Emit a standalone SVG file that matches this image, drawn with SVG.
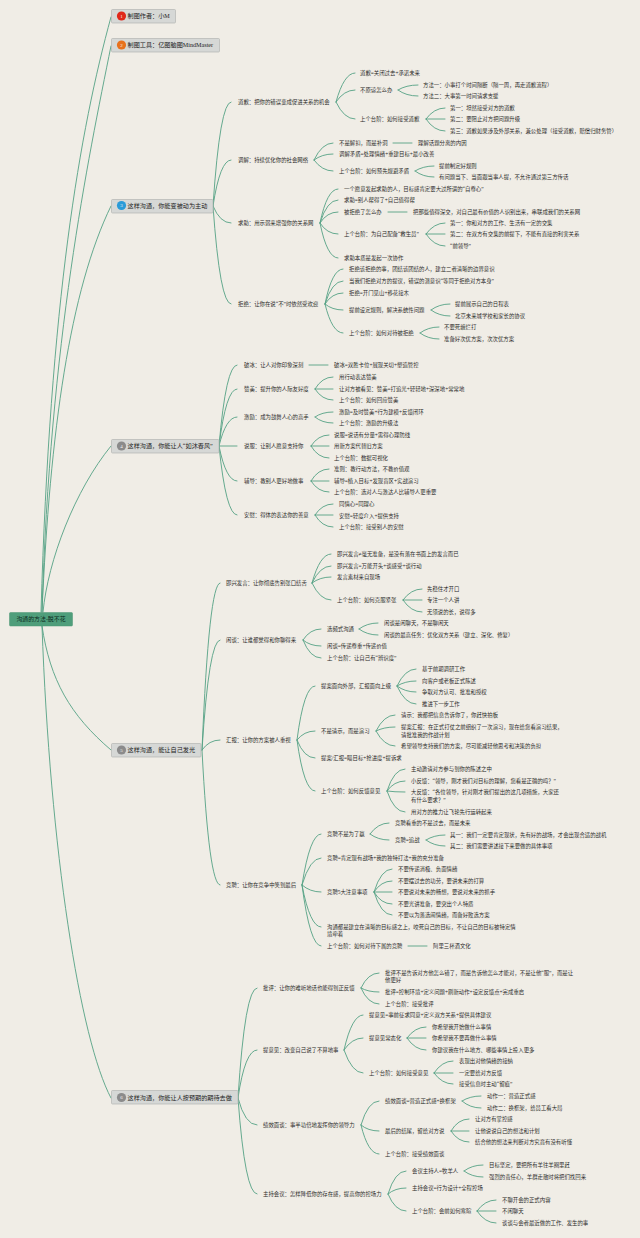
<svg xmlns="http://www.w3.org/2000/svg" width="640" height="1238" viewBox="0 0 640 1238">
<style>
text{font-family:"Liberation Serif","Noto Sans CJK SC",sans-serif;dominant-baseline:central;fill:#2b2b29}
.t{font-size:5.4px}
.m{font-size:6.15px;fill:#222}
.b{fill:#d6d8d6;stroke:#b3b6b3;stroke-width:.7}
.r{fill:#4f9e7b;stroke:#4a9573;stroke-width:.5}
.rt{font-size:5.9px;fill:#0c2a1c;text-anchor:middle}
.n{font-size:5px;fill:#f5f5f5;text-anchor:middle}
#c path{fill:none;stroke:#55a285;stroke-width:.9;stroke-linecap:round}
</style>
<rect width="640" height="1238" fill="#f0ede6"/>
<g id="c">
<path d="M41 612C50 300 80 130 111 17"/>
<path d="M42 612C50 340 88 160 111 46"/>
<path d="M42 612C50 430 70 290 111 206"/>
<path d="M43 612C48 560 75 490 111 446"/>
<path d="M42 626C50 680 70 715 111 750"/>
<path d="M42 626C50 850 80 1040 111 1098"/>
<path d="M213 206Q220 102 231 102"/><path d="M213 206Q220 160 231 160"/><path d="M213 206Q220 223 231 223"/><path d="M213 206Q220 304 231 304"/>
<path d="M336 102Q344 73 355 73"/><path d="M336 102Q344 90 355 90"/><path d="M336 102Q344 119 355 119"/>
<path d="M398 90Q406 85 418 85"/><path d="M398 90Q406 96 418 96"/>
<path d="M426 119Q434 108 445 108"/><path d="M426 119H445"/><path d="M426 119Q434 131 445 131"/>
<path d="M314 160Q322 143 333 143"/><path d="M314 160Q322 154 333 154"/><path d="M314 160Q322 171 333 171"/>
<path d="M393 143H412"/>
<path d="M415 171Q423 166 434 166"/><path d="M415 171Q423 177 434 177"/>
<path d="M320 223Q327 189 338 189"/><path d="M320 223Q327 200 338 200"/><path d="M320 223Q327 212 338 212"/><path d="M320 223Q327 234 338 234"/><path d="M320 223Q327 258 338 258"/>
<path d="M388 212H407"/>
<path d="M426 234Q434 223 445 223"/><path d="M426 234H445"/><path d="M426 234Q434 246 445 246"/>
<path d="M325 304Q332 269 343 269"/><path d="M325 304Q332 281 343 281"/><path d="M325 304Q332 293 343 293"/><path d="M325 304Q332 310 343 310"/><path d="M325 304Q332 333 343 333"/>
<path d="M431 310Q439 304 450 304"/><path d="M431 310Q439 316 450 316"/>
<path d="M420 333Q428 327 439 327"/><path d="M420 333Q428 339 439 339"/>
<path d="M219 446Q226 365 237 365"/><path d="M219 446Q226 389 237 389"/><path d="M219 446Q226 417 237 417"/><path d="M219 446H237"/><path d="M219 446Q226 481 237 481"/><path d="M219 446Q226 515 237 515"/>
<path d="M309 365H328"/>
<path d="M315 389Q322 377 333 377"/><path d="M315 389H333"/><path d="M315 389Q322 400 333 400"/>
<path d="M315 417Q322 412 333 412"/><path d="M315 417Q322 423 333 423"/>
<path d="M311 446Q318 435 329 435"/><path d="M311 446H329"/><path d="M311 446Q318 458 329 458"/>
<path d="M311 481Q318 469 329 469"/><path d="M311 481H329"/><path d="M311 481Q318 492 329 492"/>
<path d="M315 515Q322 504 333 504"/><path d="M315 515H333"/><path d="M315 515Q322 527 333 527"/>
<path d="M202 750Q209 583 220 583"/><path d="M202 750Q209 640 220 640"/><path d="M202 750Q209 740 220 740"/><path d="M202 750Q209 885 220 885"/>
<path d="M312 583Q320 554 331 554"/><path d="M312 583Q320 566 331 566"/><path d="M312 583Q320 577 331 577"/><path d="M312 583Q320 600 331 600"/>
<path d="M403 600Q411 589 422 589"/><path d="M403 600H422"/><path d="M403 600Q411 612 422 612"/>
<path d="M303 640Q310 629 321 629"/><path d="M303 640Q310 646 321 646"/><path d="M303 640Q310 658 321 658"/>
<path d="M359 629Q367 623 378 623"/><path d="M359 629Q367 635 378 635"/>
<path d="M297 740Q304 686 315 686"/><path d="M297 740Q304 731 315 731"/><path d="M297 740Q304 758 315 758"/><path d="M297 740Q304 791 315 791"/>
<path d="M397 686Q405 669 416 669"/><path d="M397 686Q405 681 416 681"/><path d="M397 686Q405 692 416 692"/><path d="M397 686Q405 704 416 704"/>
<path d="M376 731Q384 715 395 715"/><path d="M376 731Q384 727 395 727"/><path d="M376 731Q384 746 395 746"/>
<path d="M387 791Q394 769 405 769"/><path d="M387 791Q394 781 405 781"/><path d="M387 791Q394 792 405 792"/><path d="M387 791Q394 812 405 812"/>
<path d="M302 885Q310 834 321 834"/><path d="M302 885Q310 858 321 858"/><path d="M302 885Q310 892 321 892"/><path d="M302 885Q310 927 321 927"/><path d="M302 885Q310 946 321 946"/>
<path d="M370 834Q378 823 389 823"/><path d="M370 834Q378 840 389 840"/>
<path d="M426 840Q434 835 445 835"/><path d="M426 840Q434 846 445 846"/>
<path d="M374 892Q381 869 392 869"/><path d="M374 892Q381 881 392 881"/><path d="M374 892H392"/><path d="M374 892Q381 904 392 904"/><path d="M374 892Q381 915 392 915"/>
<path d="M408 946H427"/>
<path d="M238 1098Q245 988 257 988"/><path d="M238 1098Q245 1050 257 1050"/><path d="M238 1098Q245 1125 257 1125"/><path d="M238 1098Q245 1194 257 1194"/>
<path d="M361 988Q368 973 379 973"/><path d="M361 988Q368 992 379 992"/><path d="M361 988Q368 1004 379 1004"/>
<path d="M344 1050Q352 1015 363 1015"/><path d="M344 1050Q352 1038 363 1038"/><path d="M344 1050Q352 1073 363 1073"/>
<path d="M407 1038Q415 1027 426 1027"/><path d="M407 1038H426"/><path d="M407 1038Q415 1050 426 1050"/>
<path d="M434 1073Q442 1061 453 1061"/><path d="M434 1073H453"/><path d="M434 1073Q442 1084 453 1084"/>
<path d="M361 1125Q368 1101 379 1101"/><path d="M361 1125Q368 1131 379 1131"/><path d="M361 1125Q368 1154 379 1154"/>
<path d="M462 1101Q470 1096 481 1096"/><path d="M462 1101Q470 1108 481 1108"/>
<path d="M451 1131Q458 1119 469 1119"/><path d="M451 1131H469"/><path d="M451 1131Q458 1142 469 1142"/>
<path d="M388 1194Q395 1171 406 1171"/><path d="M388 1194Q395 1188 406 1188"/><path d="M388 1194Q395 1211 406 1211"/>
<path d="M464 1171Q472 1165 483 1165"/><path d="M464 1171Q472 1177 483 1177"/>
<path d="M477 1211Q485 1200 496 1200"/><path d="M477 1211H496"/><path d="M477 1211Q485 1223 496 1223"/>
</g>
<g id="root"><rect class="r" x="9.5" y="612.5" width="63" height="13.5" rx="1"/><text class="rt" x="41" y="619">沟通的方法-脱不花</text></g>
<g id="m1"><rect class="b" x="111.5" y="9.5" width="64" height="13.5" rx="1"/><circle cx="121.5" cy="16" r="4.6" fill="#e0281a"/><text class="n" x="121.5" y="16">1</text><text class="m" x="127.5" y="16.3">制图作者：小M</text></g>
<g id="m2"><rect class="b" x="111.5" y="38.5" width="108" height="13.5" rx="1"/><circle cx="121.5" cy="45" r="4.6" fill="#e8711c"/><text class="n" x="121.5" y="45">2</text><text class="m" x="127.5" y="45.3">制图工具：亿图脑图MindMaster</text></g>
<g id="m3"><rect class="b" x="111.5" y="199.5" width="101.5" height="13.5" rx="1"/><circle cx="121.5" cy="205.5" r="4.6" fill="#2a9bd8"/><text class="n" x="121.5" y="205.5">3</text><text class="m" x="127.5" y="206">这样沟通，你能变被动为主动</text></g>
<g id="m4"><rect class="b" x="111.5" y="439.5" width="107.5" height="13.5" rx="1"/><circle cx="121.5" cy="446" r="4.6" fill="#8b8b8b"/><text class="n" x="121.5" y="446">4</text><text class="m" x="127.5" y="446.3">这样沟通，你能让人“如沐春风”</text></g>
<g id="m5"><rect class="b" x="111.5" y="743.5" width="89.5" height="13.5" rx="1"/><circle cx="121.5" cy="750" r="4.6" fill="#8b8b8b"/><text class="n" x="121.5" y="750">5</text><text class="m" x="127.5" y="750.3">这样沟通，能让自己发光</text></g>
<g id="m6"><rect class="b" x="111.5" y="1090.5" width="126.5" height="13.5" rx="1"/><circle cx="121.5" cy="1097.5" r="4.6" fill="#8b8b8b"/><text class="n" x="121.5" y="1097.5">6</text><text class="m" x="127.5" y="1098">这样沟通，你能让人按预期的期待去做</text></g>
<g class="t">
<g id="a1"><text x="238" y="102">道歉：把你的错误变成促进关系的机会</text></g>
<g id="a2"><text x="360" y="73">道歉=关闭过去+承诺未来</text></g>
<g id="a3"><text x="360" y="90">不原谅怎么办</text></g>
<g id="a4"><text x="423" y="85">方法一：小事打个时间隔断（隔一周，再走道歉流程）</text></g>
<g id="a5"><text x="423" y="96">方法二：大事第一时间请求支援</text></g>
<g id="a6"><text x="360" y="119">上个台阶：如何接受道歉</text></g>
<g id="a7"><text x="450" y="108">第一：坦然接受对方的道歉</text></g>
<g id="a8"><text x="450" y="119">第二：要阻止对方把问题升级</text></g>
<g id="a9"><text x="450" y="131">第三：道歉如果涉及外部关系，兼公处理（接受道歉，赔偿归财务管）</text></g>
<g id="b1"><text x="238" y="160">调解：持续优化你的社会网络</text></g>
<g id="b2"><text x="339" y="143">不是解扣，而是补洞</text></g>
<g id="b3"><text x="418" y="143">理解话题分离的内因</text></g>
<g id="b4"><text x="339" y="154">调解矛盾=处理情绪+重建目标+最小改善</text></g>
<g id="b5"><text x="339" y="171">上个台阶：如何预先规避矛盾</text></g>
<g id="b6"><text x="439" y="166">提前制定好规则</text></g>
<g id="b7"><text x="439" y="177">有问题当下、当面跟当事人提，不允许通过第三方传话</text></g>
<g id="c1"><text x="238" y="223">求助：用示弱来增强你的关系网</text></g>
<g id="c2"><text x="344" y="189">一个愿意发起求助的人，目标感肯定要大过所谓的“自尊心”</text></g>
<g id="c3"><text x="344" y="200">求助=别人帮得了+自己值得帮</text></g>
<g id="c4"><text x="344" y="212">被拒绝了怎么办</text></g>
<g id="c5"><text x="413" y="212">把那些值得深交，对自己最有价值的人识别出来，串联成我们的关系网</text></g>
<g id="c6"><text x="344" y="234">上个台阶：为自己配备“救生员”</text></g>
<g id="c7"><text x="450" y="223">第一：你和对方的工作、生活有一定的交集</text></g>
<g id="c8"><text x="450" y="234">第二：在双方有交集的前提下，不能有直接的利害关系</text></g>
<g id="c9"><text x="450" y="246">“前领导”</text></g>
<g id="c10"><text x="344" y="258">求助本质是发起一次协作</text></g>
<g id="d1"><text x="238" y="304">拒绝：让你在说“不”时依然受欢迎</text></g>
<g id="d2"><text x="349" y="269">拒绝该拒绝的事，团结该团结的人，建立二者清晰的边界意识</text></g>
<g id="d3"><text x="349" y="281">当我们拒绝对方的提议，错误的潜意识“等同于拒绝对方本身”</text></g>
<g id="d4"><text x="349" y="293">拒绝=开门见山+移花接木</text></g>
<g id="d5"><text x="349" y="310">提前设定规则，解决系统性问题</text></g>
<g id="d6"><text x="455" y="304">提前展示自己的日程表</text></g>
<g id="d7"><text x="455" y="316">北京未来城学校和家长的协议</text></g>
<g id="d8"><text x="349" y="333">上个台阶：如何对待被拒绝</text></g>
<g id="d9"><text x="444" y="327">不要死缠烂打</text></g>
<g id="d10"><text x="444" y="339">准备好次优方案，次次优方案</text></g>
<g id="e1"><text x="244" y="365">破冰：让人对你印象深刻</text></g>
<g id="e2"><text x="334" y="365">破冰=双胜卡位+展现关切+塑造管控</text></g>
<g id="e3"><text x="244" y="389">赞美：提升你的人际友好度</text></g>
<g id="e4"><text x="339" y="377">用行动表达赞美</text></g>
<g id="e5"><text x="339" y="389">让对方被看见：赞美=打追光+轻轻地+深深地+常常地</text></g>
<g id="e6"><text x="339" y="400">上个台阶：如何回应赞美</text></g>
<g id="e7"><text x="244" y="417">激励：成为鼓舞人心的高手</text></g>
<g id="e8"><text x="339" y="412">激励=及时赞美+行为建模+反馈闭环</text></g>
<g id="e9"><text x="339" y="423">上个台阶：激励的升级法</text></g>
<g id="e10"><text x="244" y="446">说服：让别人愿意支持你</text></g>
<g id="e11"><text x="334" y="435">说服=说话有分量+需得心理防线</text></g>
<g id="e12"><text x="334" y="446">用新方案代替旧方案</text></g>
<g id="e13"><text x="334" y="458">上个台阶：数据可视化</text></g>
<g id="e14"><text x="244" y="481">辅导：教别人更好地做事</text></g>
<g id="e15"><text x="334" y="469">准则：教行动方法，不教价值观</text></g>
<g id="e16"><text x="334" y="481">辅导=植入目标+发现盲区+实战演习</text></g>
<g id="e17"><text x="334" y="492">上个台阶：选对人与激达人比辅导人更重要</text></g>
<g id="e18"><text x="244" y="515">安慰：得体的表达你的善意</text></g>
<g id="e19"><text x="339" y="504">同情心=同理心</text></g>
<g id="e20"><text x="339" y="516">安慰=轻度介入+提供支持</text></g>
<g id="e21"><text x="339" y="527">上个台阶：接受别人的安慰</text></g>
<g id="f1"><text x="226" y="583">即兴发言：让你彻底告别张口结舌</text></g>
<g id="f2"><text x="337" y="554">即兴发言≠毫无准备，是没有落在书面上的发言而已</text></g>
<g id="f3"><text x="337" y="566">即兴发言=万能开头+谈感受+谈行动</text></g>
<g id="f4"><text x="337" y="577">发言素材来自现场</text></g>
<g id="f5"><text x="337" y="600">上个台阶：如何克服紧张</text></g>
<g id="f6"><text x="427" y="589">先稳住才开口</text></g>
<g id="f7"><text x="427" y="600">专注一个人讲</text></g>
<g id="f8"><text x="427" y="612">无须说的长，说得多</text></g>
<g id="f9"><text x="226" y="640">闲谈：让谁都觉得和你聊得来</text></g>
<g id="f10"><text x="327" y="629">选频式沟通</text></g>
<g id="f11"><text x="384" y="623">闲谈是闲聊天，不是聊闲天</text></g>
<g id="f12"><text x="384" y="635">闲谈的最高任务：优化双方关系（建立、深化、修复）</text></g>
<g id="f13"><text x="327" y="646">闲谈=传递尊重+传递价值</text></g>
<g id="f14"><text x="327" y="658">上个台阶：让自己有“辨识度”</text></g>
<g id="h1"><text x="226" y="740">汇报：让你的方案被人重视</text></g>
<g id="h2"><text x="321" y="686">提案面向外部，汇报面向上级</text></g>
<g id="h3"><text x="422" y="669">基于前期调研工作</text></g>
<g id="h4"><text x="422" y="681">向客户或老板正式陈述</text></g>
<g id="h5"><text x="422" y="692">争取对方认可、批准和授权</text></g>
<g id="h6"><text x="422" y="704">推进下一步工作</text></g>
<g id="h7"><text x="321" y="731">不是请示，而是演习</text></g>
<g id="h8"><text x="401" y="715">请示：我都把信息告诉你了，你赶快拍板</text></g>
<g id="h9"><text x="401" y="727">提案汇报：在正式打仗之前组织了一次演习，现在给您看演习结果，</text><text x="401" y="735">请批准我的作战计划</text></g>
<g id="h10"><text x="401" y="746">希望领导支持我们的方案，尽可能减轻他思考和决策的负担</text></g>
<g id="h11"><text x="321" y="758">提案/汇报=瞄目标+抢进度+提诉求</text></g>
<g id="h12"><text x="321" y="791">上个台阶：如何反馈意见</text></g>
<g id="h13"><text x="411" y="769">主动邀请对方参与到你的陈述之中</text></g>
<g id="h14"><text x="411" y="781">小反馈：“领导，刚才我们对目标的理解，您看是正确的吗？”</text></g>
<g id="h15"><text x="411" y="792">大反馈：“各位领导，针对刚才我们提出的这几项措施，大家还</text><text x="411" y="800">有什么要求？”</text></g>
<g id="h16"><text x="411" y="812">用对方的推力让飞轮先行运转起来</text></g>
<g id="j1"><text x="226" y="885">竞聘：让你在竞争中笑到最后</text></g>
<g id="j2"><text x="327" y="834">竞聘不是为了赢</text></g>
<g id="j3"><text x="395" y="823">竞聘看重的不是过去，而是未来</text></g>
<g id="j4"><text x="395" y="840">竞聘=追战</text></g>
<g id="j5"><text x="450" y="835">其一：我们一定要肯定现状，先有好的战场，才会出现合适的战机</text></g>
<g id="j6"><text x="450" y="846">其二：我们需要讲述接下来要做的具体事项</text></g>
<g id="j7"><text x="327" y="858">竞聘=肯定现有战场+我的独特打法+我的充分准备</text></g>
<g id="j8"><text x="327" y="892">竞聘5大注意事项</text></g>
<g id="j9"><text x="398" y="869">不要传递消极、负面情绪</text></g>
<g id="j10"><text x="398" y="881">不要摆过去的功劳，要讲未来的打算</text></g>
<g id="j11"><text x="398" y="892">不要说对未来的畅想，要说对未来的抓手</text></g>
<g id="j12"><text x="398" y="904">不要光讲准备，要突出个人特质</text></g>
<g id="j13"><text x="398" y="915">不要以为落选闹情绪，而备好败选方案</text></g>
<g id="j14"><text x="327" y="927">沟通都是建立在清晰的目标感之上，咬死自己的目标，不让自己的目标被特定情</text><text x="327" y="934">境牵着</text></g>
<g id="j15"><text x="327" y="946">上个台阶：如何对待下属的竞聘</text></g>
<g id="j16"><text x="433" y="946">阿里三杯酒文化</text></g>
<g id="k1"><text x="263" y="988">批评：让你的难听地话也能得到正反馈</text></g>
<g id="k2"><text x="385" y="973">批评不是告诉对方他怎么错了，而是告诉他怎么才能对，不是让他“服”，而是让</text><text x="385" y="980">他更好</text></g>
<g id="k3"><text x="385" y="992">批评=控制环境+定义问题+刷新动作+设定反馈点+完成重启</text></g>
<g id="k4"><text x="385" y="1004">上个台阶：接受批评</text></g>
<g id="k5"><text x="263" y="1050">提意见：改变自己说了不算地事</text></g>
<g id="k6"><text x="369" y="1015">提意见=事前征求同意+定义双方关系+提供具体建议</text></g>
<g id="k7"><text x="369" y="1038">提意见常态化</text></g>
<g id="k8"><text x="432" y="1027">你希望我开始做什么事情</text></g>
<g id="k9"><text x="432" y="1038">你希望我不要再做什么事情</text></g>
<g id="k10"><text x="432" y="1050">你建议我在什么地方、哪些事情上投入更多</text></g>
<g id="k11"><text x="369" y="1073">上个台阶：如何接受意见</text></g>
<g id="k12"><text x="459" y="1061">表现出对他情绪的接纳</text></g>
<g id="k13"><text x="459" y="1073">一定要给对方反馈</text></g>
<g id="k14"><text x="459" y="1084">接受信息时主动“留痕”</text></g>
<g id="k15"><text x="263" y="1125">绩效面谈：事半功倍地发挥你的领导力</text></g>
<g id="k16"><text x="385" y="1101">绩效面谈=营造正式感+换框架</text></g>
<g id="k17"><text x="487" y="1096">动作一：营造正式感</text></g>
<g id="k18"><text x="487" y="1108">动作二：换框架，给员工看大局</text></g>
<g id="k19"><text x="385" y="1131">最后的结尾，留给对方说</text></g>
<g id="k20"><text x="475" y="1119">让对方有掌控感</text></g>
<g id="k21"><text x="475" y="1131">让他说说自己的想法和计划</text></g>
<g id="k22"><text x="475" y="1142">结合他的想法来判断对方究竟有没有听懂</text></g>
<g id="k23"><text x="385" y="1154">上个台阶：接受绩效面谈</text></g>
<g id="k24"><text x="263" y="1194">主持会议：怎样降低你的存在感，提高你的控场力</text></g>
<g id="k25"><text x="412" y="1171">会议主持人=牧羊人</text></g>
<g id="k26"><text x="489" y="1165">目标坚定，要把所有羊往羊圈里赶</text></g>
<g id="k27"><text x="489" y="1177">强烈的责任心，羊群走散时将把们找回来</text></g>
<g id="k28"><text x="412" y="1188">主持会议=行为设计+全程控场</text></g>
<g id="k29"><text x="412" y="1211">上个台阶：会前如何寒暄</text></g>
<g id="k30"><text x="502" y="1200">不聊开会的正式内容</text></g>
<g id="k31"><text x="502" y="1211">不闲聊天</text></g>
<g id="k32"><text x="502" y="1223">谈谈与会者最近做的工作、发生的事</text></g>
</g>
</svg>
